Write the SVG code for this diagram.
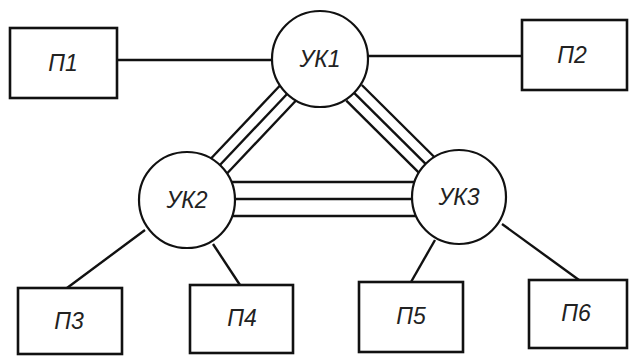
<svg xmlns="http://www.w3.org/2000/svg" width="629" height="357" viewBox="0 0 629 357">
<style>
.box{fill:#fff;stroke:#111;stroke-width:2.6}
.node{fill:#fff;stroke:#111;stroke-width:2.2}
.ln{stroke:#111;stroke-width:2.4;fill:none}
text{font-family:"Liberation Sans",Arial,sans-serif;font-style:italic;font-size:23px;fill:#222;text-anchor:middle;dominant-baseline:central}
</style>
<rect width="629" height="357" fill="#fff"/>
<g id="connectors">
<line class="ln" x1="117" y1="60" x2="272" y2="60"/>
<line class="ln" x1="368" y1="56" x2="522" y2="56"/>
<line class="ln" x1="280" y1="85.5" x2="211" y2="158.5"/>
<line class="ln" x1="288" y1="93" x2="219" y2="166"/>
<line class="ln" x1="296" y1="100.5" x2="227" y2="173.5"/>
<line class="ln" x1="361.8" y1="85" x2="434.3" y2="157"/>
<line class="ln" x1="354.1" y1="92.8" x2="426.6" y2="164.8"/>
<line class="ln" x1="346.3" y1="100.6" x2="418.8" y2="172.6"/>
<line class="ln" x1="231.5" y1="182" x2="414.5" y2="182"/>
<line class="ln" x1="235" y1="199" x2="412" y2="199"/>
<line class="ln" x1="232.3" y1="216" x2="416" y2="216"/>
<line class="ln" x1="145" y1="230" x2="67" y2="288"/>
<line class="ln" x1="213" y1="244" x2="240" y2="285"/>
<line class="ln" x1="435" y1="240" x2="411" y2="282"/>
<line class="ln" x1="502" y1="224" x2="579" y2="280"/>
</g>
<g id="P1"><rect class="box" x="10" y="28" width="107" height="70"/><text x="63" y="63">П1</text></g>
<g id="P2"><rect class="box" x="522" y="20" width="105" height="70"/><text x="572" y="55">П2</text></g>
<g id="UK1"><circle class="node" cx="320" cy="59" r="48"/><text x="320" y="59">УК1</text></g>
<g id="UK2"><circle class="node" cx="187" cy="200" r="48"/><text x="187" y="200">УК2</text></g>
<g id="UK3"><circle class="node" cx="459" cy="197" r="47"/><text x="459" y="197">УК3</text></g>
<g id="P3"><rect class="box" x="18" y="288" width="104" height="66"/><text x="69" y="321">П3</text></g>
<g id="P4"><rect class="box" x="190" y="285" width="103" height="68"/><text x="242" y="318">П4</text></g>
<g id="P5"><rect class="box" x="359" y="282" width="104" height="70"/><text x="411" y="316">П5</text></g>
<g id="P6"><rect class="box" x="529" y="280" width="98" height="68"/><text x="576" y="313">П6</text></g>
</svg>
